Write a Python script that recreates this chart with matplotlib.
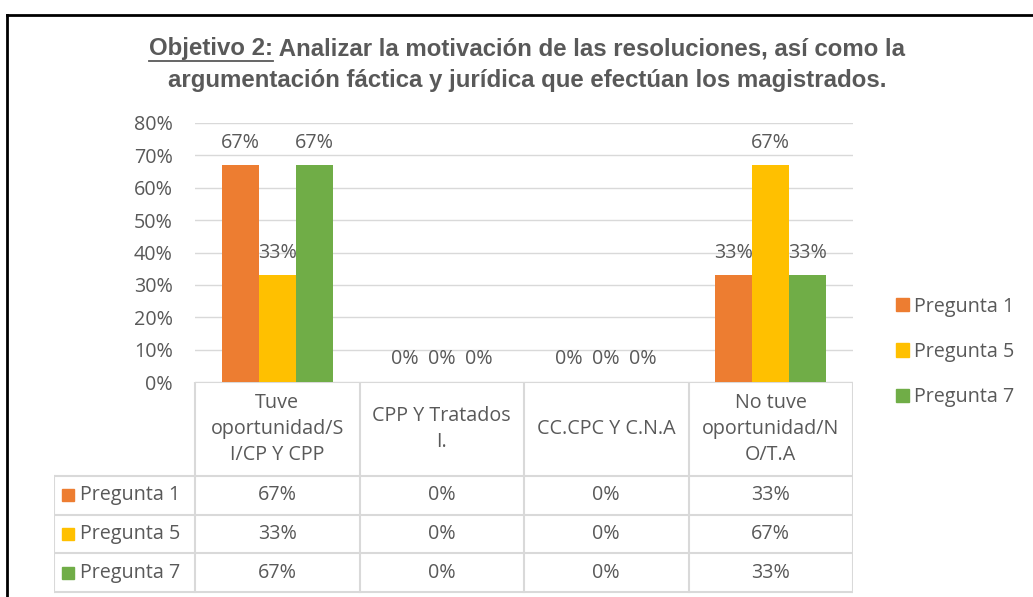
import numpy as np
import matplotlib
matplotlib.use("Agg")
import matplotlib.pyplot as plt
from matplotlib.lines import Line2D
from matplotlib.patches import Rectangle

# -------- DATA --------
categories = ["Tuve\noportunidad/S\nI/CP Y CPP", "CPP Y Tratados\nI.", "CC.CPC Y C.N.A", "No tuve\noportunidad/N\nO/T.A"]
series_names = ["Pregunta 1", "Pregunta 5", "Pregunta 7"]
pregunta1 = [0.67, 0.0, 0.0, 0.33]
pregunta5 = [0.33, 0.0, 0.0, 0.67]
pregunta7 = [0.67, 0.0, 0.0, 0.33]
yticks = [0, 0.1, 0.2, 0.3, 0.4, 0.5, 0.6, 0.7, 0.8]
colors = ["#ED7D31", "#FFC000", "#70AD47"]
# ----------------------

GRAY = "#595959"
GRID = "#D9D9D9"
FONT = "Open Sans"
FS = 14.2
W, H = 1033, 597

fig = plt.figure(figsize=(W / 100, H / 100), dpi=100)

def fx(px):
    return px / W

def fy(py):
    return 1 - py / H

# outer frame
fig.add_artist(Line2D([fx(7), fx(7)], [fy(15), 0], color="black", lw=2, transform=fig.transFigure))
fig.add_artist(Line2D([fx(7), 1], [fy(15), fy(15)], color="black", lw=2, transform=fig.transFigure))

# plot area
L, R, T, B = 195, 853, 123, 382
ax = fig.add_axes([fx(L), fy(B), fx(R - L), (B - T) / H])
series = [pregunta1, pregunta5, pregunta7]
x = np.arange(len(categories))
bw = 0.225
for i, (vals, c) in enumerate(zip(series, colors)):
    xs = x + (i - 1) * bw
    ax.bar(xs, vals, bw, color=c, zorder=3, label=series_names[i])
    for xi, v in zip(xs, vals):
        ax.annotate(f"{v:.0%}", (xi, v), xytext=(0, 9), textcoords="offset points",
                    ha="center", va="bottom", fontsize=FS, color=GRAY, family=FONT)

ax.set_xlim(-0.5, len(categories) - 0.5)
ax.set_ylim(0, 0.8)
ax.set_yticks(yticks)
ax.set_yticklabels([f"{t:.0%}" for t in yticks], fontsize=FS, color=GRAY, family=FONT)
ax.tick_params(axis="y", length=0, pad=16)
ax.set_xticks([])
ax.grid(axis="y", color=GRID, lw=1, zorder=0)
for s in ax.spines.values():
    s.set_visible(False)

# legend
handles = [Rectangle((0, 0), 1, 1, color=c) for c in colors]
fig.legend(handles, series_names, loc="center left", bbox_to_anchor=(fx(878), fy(352)),
           frameon=False, handlelength=0.65, handleheight=0.65, handletextpad=0.3,
           labelspacing=1.28, prop={"family": FONT, "size": FS}, labelcolor=GRAY)

# data table
TL, TB, HB = 54, 592, 476
tax = fig.add_axes([fx(TL), 0, fx(R - TL), fy(B)])
tax.set_xlim(TL, R)
tax.set_ylim(H, B)
tax.axis("off")
ncat = len(categories)
edges = [L + i * (R - L) / ncat for i in range(ncat + 1)]
row_h = (TB - HB) / len(series)
lk = dict(color=GRID, lw=1.5)
tax.plot([L, R], [B, B], **lk)
for e in edges:
    tax.plot([e, e], [B, TB], **lk)
tax.plot([TL, TL], [HB, TB], **lk)
for j in range(len(series) + 1):
    yy = HB + j * row_h
    tax.plot([TL, R], [yy, yy], **lk)
for k, cat in enumerate(categories):
    tax.text((edges[k] + edges[k + 1]) / 2, (B + HB) / 2, cat, ha="center", va="center",
             fontsize=FS, color=GRAY, family=FONT, linespacing=1.4)
for j, (name, vals, c) in enumerate(zip(series_names, series, colors)):
    yc = HB + (j + 0.5) * row_h
    tax.add_patch(Rectangle((62, yc - 6), 12, 12, color=c))
    tax.text(80, yc, name, ha="left", va="center", fontsize=FS, color=GRAY, family=FONT)
    for k, v in enumerate(vals):
        tax.text((edges[k] + edges[k + 1]) / 2, yc, f"{v:.0%}", ha="center", va="center",
                 fontsize=FS, color=GRAY, family=FONT)

# title with underlined prefix
r = fig.canvas.get_renderer()
tkw = dict(fontsize=17.3, fontweight="bold", color=GRAY, family="Liberation Sans",
           transform=fig.transFigure, va="center")
pre = "Objetivo 2:"
rest = " Analizar la motivación de las resoluciones, así como la"
t1 = fig.text(0, 0, pre, **tkw)
t2 = fig.text(0, 0, rest, **tkw)
w1 = t1.get_window_extent(r).width
w2 = t2.get_window_extent(r).width
cx = 527
x0 = cx - (w1 + w2) / 2
t1.set_position((fx(x0), fy(49)))
t2.set_position((fx(x0 + w1), fy(49)))
fig.add_artist(Line2D([fx(x0), fx(x0 + w1)], [fy(61), fy(61)], color=GRAY, lw=1.3,
                      transform=fig.transFigure))
fig.text(fx(cx), fy(81), "argumentación fáctica y jurídica que efectúan los magistrados.",
         ha="center", **tkw)

fig.savefig("out.png", dpi=100)
